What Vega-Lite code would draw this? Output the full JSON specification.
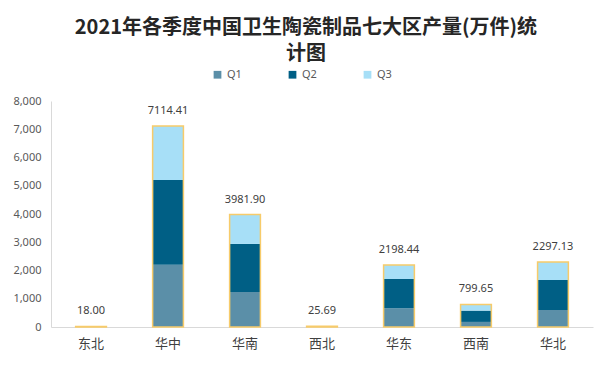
{
  "$schema": "https://vega.github.io/schema/vega-lite/v6.json",
  "width": 542,
  "height": 226,
  "padding": {"left": 12, "top": 18, "right": 17, "bottom": 10},
  "background": "white",
  "title": {
    "text": ["2021年各季度中国卫生陶瓷制品七大区产量(万件)统", "计图"],
    "font": "Noto Sans CJK SC",
    "fontSize": 20,
    "fontWeight": "bold",
    "lineHeight": 26,
    "color": "#262626",
    "anchor": "middle",
    "frame": "bounds",
    "dx": 3,
    "offset": 5
  },
  "data": {
    "values": [
      {"region": "东北", "quarter": "Q1", "value": 6},
      {"region": "东北", "quarter": "Q2", "value": 6},
      {"region": "东北", "quarter": "Q3", "value": 6},
      {"region": "华中", "quarter": "Q1", "value": 2200},
      {"region": "华中", "quarter": "Q2", "value": 3000},
      {"region": "华中", "quarter": "Q3", "value": 1914.41},
      {"region": "华南", "quarter": "Q1", "value": 1240},
      {"region": "华南", "quarter": "Q2", "value": 1700},
      {"region": "华南", "quarter": "Q3", "value": 1041.9},
      {"region": "西北", "quarter": "Q1", "value": 9},
      {"region": "西北", "quarter": "Q2", "value": 8},
      {"region": "西北", "quarter": "Q3", "value": 8.69},
      {"region": "华东", "quarter": "Q1", "value": 660},
      {"region": "华东", "quarter": "Q2", "value": 1040},
      {"region": "华东", "quarter": "Q3", "value": 498.44},
      {"region": "西南", "quarter": "Q1", "value": 180},
      {"region": "西南", "quarter": "Q2", "value": 400},
      {"region": "西南", "quarter": "Q3", "value": 219.65},
      {"region": "华北", "quarter": "Q1", "value": 600},
      {"region": "华北", "quarter": "Q2", "value": 1065},
      {"region": "华北", "quarter": "Q3", "value": 632.13}
    ]
  },
  "encoding": {
    "x": {
      "field": "region",
      "type": "nominal",
      "sort": ["东北", "华中", "华南", "西北", "华东", "西南", "华北"],
      "scale": {"paddingInner": 0.6, "paddingOuter": 0.32},
      "axis": {
        "title": null,
        "labelAngle": 0,
        "labelFont": "Noto Sans CJK SC",
        "labelFontSize": 13,
        "labelColor": "#404040",
        "labelPadding": 10,
        "ticks": false,
        "domainColor": "#D9D9D9",
        "grid": false
      }
    }
  },
  "layer": [
    {
      "mark": {"type": "bar"},
      "encoding": {
        "y": {
          "field": "value",
          "type": "quantitative",
          "aggregate": "sum",
          "stack": "zero",
          "scale": {"domain": [0, 8000]},
          "axis": {
            "title": null,
            "values": [0, 1000, 2000, 3000, 4000, 5000, 6000, 7000, 8000],
            "format": ",.0f",
            "labelOverlap": false,
            "labelFont": "Noto Sans",
            "labelFontSize": 11,
            "labelColor": "#595959",
            "labelPadding": 10,
            "ticks": false,
            "grid": false,
            "domainColor": "#D9D9D9"
          }
        },
        "color": {
          "field": "quarter",
          "type": "nominal",
          "scale": {"domain": ["Q1", "Q2", "Q3"], "range": ["#5B8FA8", "#005F85", "#A7DFF7"]},
          "legend": {
            "title": null,
            "orient": "none",
            "direction": "horizontal",
            "legendX": 161,
            "legendY": -32,
            "symbolType": "square",
            "symbolSize": 60,
            "symbolStrokeWidth": 0,
            "labelFont": "Noto Sans",
            "labelFontSize": 11,
            "labelColor": "#595959",
            "columnPadding": 45,
            "labelOffset": 4
          }
        },
        "order": {"field": "quarter", "sort": "ascending"}
      }
    },
    {
      "transform": [{"aggregate": [{"op": "sum", "field": "value", "as": "total"}], "groupby": ["region"]}],
      "mark": {"type": "bar", "fillOpacity": 0, "stroke": "#F7CB6A", "strokeWidth": 1.5},
      "encoding": {
        "y": {
          "field": "total",
          "type": "quantitative",
          "axis": {
            "title": null,
            "values": [0, 1000, 2000, 3000, 4000, 5000, 6000, 7000, 8000],
            "format": ",.0f",
            "labelOverlap": false,
            "labelFont": "Noto Sans",
            "labelFontSize": 11,
            "labelColor": "#595959",
            "labelPadding": 10,
            "ticks": false,
            "grid": false,
            "domainColor": "#D9D9D9"
          }
        }
      }
    },
    {
      "transform": [{"aggregate": [{"op": "sum", "field": "value", "as": "total"}], "groupby": ["region"]}],
      "mark": {"type": "text", "baseline": "bottom", "dy": -10, "font": "Noto Sans", "fontSize": 11, "color": "#404040"},
      "encoding": {
        "y": {
          "field": "total",
          "type": "quantitative",
          "axis": {
            "title": null,
            "values": [0, 1000, 2000, 3000, 4000, 5000, 6000, 7000, 8000],
            "format": ",.0f",
            "labelOverlap": false,
            "labelFont": "Noto Sans",
            "labelFontSize": 11,
            "labelColor": "#595959",
            "labelPadding": 10,
            "ticks": false,
            "grid": false,
            "domainColor": "#D9D9D9"
          }
        },
        "text": {"field": "total", "type": "quantitative", "format": ".2f"}
      }
    }
  ],
  "config": {"view": {"stroke": null}}
}
